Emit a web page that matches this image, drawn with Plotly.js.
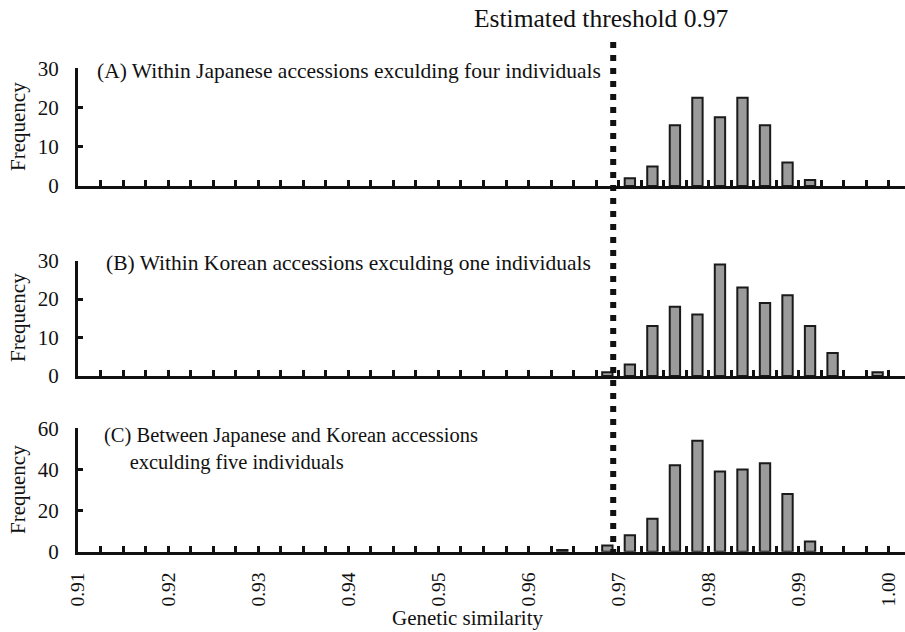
<!DOCTYPE html>
<html>
<head>
<meta charset="utf-8">
<script src="https://cdn.plot.ly/plotly-3.0.1.min.js"></script>
<style>html,body{margin:0;padding:0;background:#fff;}#chart{width:905px;height:632px;}</style>
</head>
<body>
<div id="chart"></div>
<script>
// Bin centres (genetic similarity, bin width 0.0025)
const binsA = [0.97125, 0.97375, 0.97625, 0.97875, 0.98125, 0.98375, 0.98625, 0.98875, 0.99125];
const freqA = [2, 5, 15.5, 22.5, 17.5, 22.5, 15.5, 6, 1.5];

const binsB = [0.96875, 0.97125, 0.97375, 0.97625, 0.97875, 0.98125, 0.98375, 0.98625, 0.98875, 0.99125, 0.99375, 0.99875];
const freqB = [1, 3, 13, 18, 16, 29, 23, 19, 21, 13, 6, 1];

const binsC = [0.96375, 0.96875, 0.97125, 0.97375, 0.97625, 0.97875, 0.98125, 0.98375, 0.98625, 0.98875, 0.99125];
const freqC = [0.8, 3, 8, 16, 42, 54, 39, 40, 43, 28, 5];

const xTickVals = [0.91, 0.92, 0.93, 0.94, 0.95, 0.96, 0.97, 0.98, 0.99, 1.00];
const xTickText = ["0.91", "0.92", "0.93", "0.94", "0.95", "0.96", "0.97", "0.98", "0.99", "1.00"];
const yTicksAB = [0, 10, 20, 30];
const yTicksC = [0, 20, 40, 60];
const threshold = 0.9694;

const panelLabels = [
  "(A) Within Japanese accessions exculding four individuals",
  "(B) Within Korean accessions exculding one individuals",
  "(C) Between Japanese and Korean accessions",
  "exculding five individuals"
];

const FONT = "Liberation Serif, Times New Roman, serif";
const W = 905, H = 632;
const px = v => v / W;
const py = v => 1 - v / H;

function barTrace(x, y, xa, ya) {
  return {
    type: 'bar', x: x, y: y, xaxis: xa, yaxis: ya,
    width: 0.00115,
    marker: { color: '#9b9b9b', line: { color: '#1a1a1a', width: 2 } },
    hoverinfo: 'x+y'
  };
}

const xRange = [0.90999, 1.00179];
function xAxis(anchor, labels) {
  return {
    anchor: anchor, domain: [px(78), 1], range: xRange,
    showline: true, linecolor: '#111', linewidth: 3,
    showgrid: false, zeroline: false,
    ticks: 'inside', ticklen: 6, tickwidth: 3, tickcolor: '#111',
    tickmode: 'array', tickvals: xTickVals, ticktext: xTickText,
    showticklabels: labels, tickangle: -90,
    ticklabelstandoff: 10,
    tickfont: { family: FONT, size: 19.5, color: '#111' },
    minor: { dtick: 0.0025, tick0: 0.91, ticks: 'inside', ticklen: 6, tickwidth: 3, tickcolor: '#111', showgrid: false }
  };
}
function yAxis(anchor, dom, range, vals) {
  return {
    anchor: anchor, domain: dom, range: range,
    showline: true, linecolor: '#111', linewidth: 3,
    showgrid: false, zeroline: false,
    ticks: 'inside', ticklen: 5, tickwidth: 3, tickcolor: '#111',
    tickmode: 'array', tickvals: vals,
    ticklabelstandoff: 12,
    tickfont: { family: FONT, size: 21, color: '#111' }
  };
}

const data = [
  barTrace(binsA, freqA, 'x', 'y'),
  barTrace(binsB, freqB, 'x2', 'y2'),
  barTrace(binsC, freqC, 'x3', 'y3')
];

function ann(text, x, y, opts) {
  return Object.assign({
    text: text, xref: 'paper', yref: 'paper', x: x, y: y,
    showarrow: false, xanchor: 'left', yanchor: 'middle',
    font: { family: FONT, size: 21.5, color: '#111' }
  }, opts || {});
}

const layout = {
  width: W, height: H,
  margin: { l: 0, r: 0, t: 0, b: 0 },
  paper_bgcolor: '#fff', plot_bgcolor: 'rgba(0,0,0,0)',
  showlegend: false, barmode: 'overlay',
  xaxis: xAxis('y', false),
  xaxis2: xAxis('y2', false),
  xaxis3: xAxis('y3', true),
  yaxis: yAxis('x', [py(186), py(68.3)], [0, 30], yTicksAB),
  yaxis2: yAxis('x2', [py(376), py(260.7)], [0, 30], yTicksAB),
  yaxis3: yAxis('x3', [py(551.7), py(428.3)], [0, 60], yTicksC),
  shapes: [{
    type: 'line', xref: 'x3', yref: 'paper',
    x0: threshold, x1: threshold, y0: py(42), y1: py(560),
    line: { color: '#111', width: 6, dash: '6px,7px' }
  }],
  annotations: [
    ann('Estimated threshold 0.97', px(601), py(18), { xanchor: 'center', font: { family: FONT, size: 25.5, color: '#111' } }),
    ann(panelLabels[0], px(95), py(71)),
    ann(panelLabels[1], px(104), py(263)),
    ann(panelLabels[2] + '<br>' + '\u00a0\u00a0\u00a0\u00a0\u00a0' + panelLabels[3], px(102), py(449), { align: 'left', font: { family: FONT, size: 20.5, color: '#111' } }),
    ann('Frequency', px(18), py(127), { xanchor: 'center', textangle: -90, font: { family: FONT, size: 21, color: '#111' } }),
    ann('Frequency', px(18), py(318), { xanchor: 'center', textangle: -90, font: { family: FONT, size: 21, color: '#111' } }),
    ann('Frequency', px(18), py(490), { xanchor: 'center', textangle: -90, font: { family: FONT, size: 21, color: '#111' } }),
    ann('Genetic similarity', px(468), py(618), { xanchor: 'center', font: { family: FONT, size: 21, color: '#111' } })
  ]
};

Plotly.newPlot('chart', data, layout, { displayModeBar: false, staticPlot: true });
</script>
</body>
</html>
